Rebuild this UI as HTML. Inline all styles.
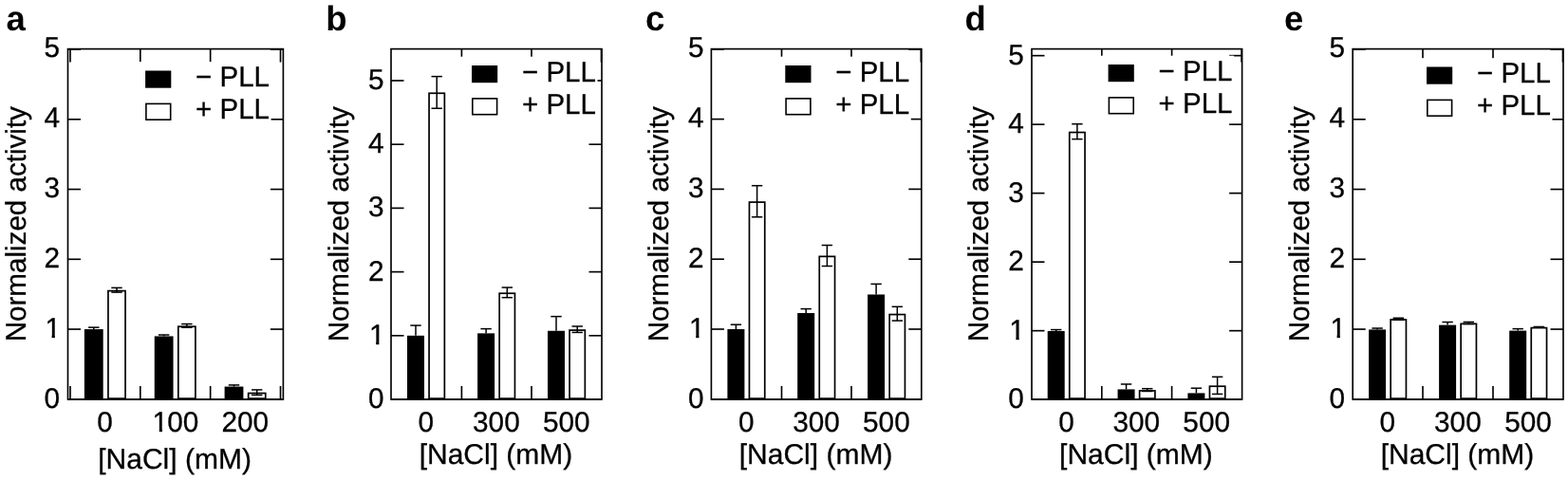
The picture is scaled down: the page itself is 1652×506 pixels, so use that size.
<!DOCTYPE html>
<html lang="en">
<head>
<meta charset="utf-8">
<title>Normalized activity vs [NaCl] with and without PLL</title>
<style>
html,body{margin:0;padding:0;background:#fff;}
body{width:1652px;height:506px;overflow:hidden;}
svg{display:block;}
svg text{font-family:"Liberation Sans", Arial, Helvetica, sans-serif;fill:#000;text-rendering:geometricPrecision;stroke:#000;stroke-width:0.3px;}
svg text.pl{stroke:none;}
svg line{stroke:#000;}
svg rect.s{stroke:#000;}
</style>
</head>
<body>
<svg width="1652" height="506" viewBox="0 0 1652 506">
<defs>
<clipPath id="clip1" clipPathUnits="userSpaceOnUse"><rect x="-2" y="-30" width="24" height="26.9"/><rect x="8.24" y="-3.5" width="3.25" height="4.2"/></clipPath>
<clipPath id="clip100" clipPathUnits="userSpaceOnUse"><rect x="-2" y="-30" width="24" height="26.9"/><rect x="8.24" y="-3.5" width="3.25" height="4.2"/><rect x="16.98" y="-30" width="40" height="34"/></clipPath>
</defs>
<rect x="0" y="0" width="1652" height="506" fill="#fff"/>
<g id="panel-a">
<text transform="translate(6.50,32.00)" text-anchor="start" font-size="36.5" class="pl" font-weight="700">a</text>
<text transform="translate(26.60,236.20) rotate(-90) scale(0.986,1)" text-anchor="middle" font-size="30.0">Normalized activity</text>
<rect class="s" x="71.50" y="51.60" width="226.90" height="369.40" fill="none" stroke-width="1.65"/>
<line x1="74.00" y1="51.60" x2="74.00" y2="65.60" stroke-width="1.65"/>
<line x1="74.00" y1="421.00" x2="74.00" y2="407.00" stroke-width="1.65"/>
<line x1="147.80" y1="51.60" x2="147.80" y2="65.60" stroke-width="1.65"/>
<line x1="147.80" y1="421.00" x2="147.80" y2="407.00" stroke-width="1.65"/>
<line x1="221.65" y1="51.60" x2="221.65" y2="65.60" stroke-width="1.65"/>
<line x1="221.65" y1="421.00" x2="221.65" y2="407.00" stroke-width="1.65"/>
<line x1="295.50" y1="51.60" x2="295.50" y2="65.60" stroke-width="1.65"/>
<line x1="295.50" y1="421.00" x2="295.50" y2="407.00" stroke-width="1.65"/>
<text transform="translate(63.00,430.00) scale(0.992,1)" text-anchor="end" font-size="30.0">0</text>
<line x1="71.50" y1="347.05" x2="85.00" y2="347.05" stroke-width="1.65"/>
<line x1="298.40" y1="347.05" x2="284.90" y2="347.05" stroke-width="1.65"/>
<text transform="translate(46.45,356.00) scale(0.992,1)" clip-path="url(#clip1)" font-size="30.0"><tspan dx="1.0">1</tspan></text>
<line x1="71.50" y1="273.30" x2="85.00" y2="273.30" stroke-width="1.65"/>
<line x1="298.40" y1="273.30" x2="284.90" y2="273.30" stroke-width="1.65"/>
<text transform="translate(63.00,282.00) scale(0.992,1)" text-anchor="end" font-size="30.0">2</text>
<line x1="71.50" y1="199.55" x2="85.00" y2="199.55" stroke-width="1.65"/>
<line x1="298.40" y1="199.55" x2="284.90" y2="199.55" stroke-width="1.65"/>
<text transform="translate(63.00,208.00) scale(0.992,1)" text-anchor="end" font-size="30.0">3</text>
<line x1="71.50" y1="125.80" x2="85.00" y2="125.80" stroke-width="1.65"/>
<line x1="298.40" y1="125.80" x2="284.90" y2="125.80" stroke-width="1.65"/>
<text transform="translate(63.00,134.00) scale(0.992,1)" text-anchor="end" font-size="30.0">4</text>
<line x1="71.50" y1="52.05" x2="85.00" y2="52.05" stroke-width="1.65"/>
<line x1="298.40" y1="52.05" x2="284.90" y2="52.05" stroke-width="1.65"/>
<text transform="translate(63.00,60.00) scale(0.992,1)" text-anchor="end" font-size="30.0">5</text>
<rect x="135.10" y="65.20" width="150.50" height="70.90" fill="#fff"/>
<rect x="153.10" y="74.50" width="27.2" height="18.2" fill="#000"/>
<rect class="s" x="153.90" y="109.40" width="25.8" height="16.8" fill="#fff" stroke-width="1.6"/>
<text transform="translate(206.10,91.00) scale(0.982,1)" text-anchor="start" font-size="30.0">− PLL</text>
<text transform="translate(206.10,125.00) scale(0.982,1)" text-anchor="start" font-size="30.0">+ PLL</text>
<rect x="88.90" y="347.05" width="19.80" height="73.95" fill="#000"/>
<line x1="98.80" y1="347.05" x2="98.80" y2="345.13" stroke-width="1.5"/>
<line x1="93.10" y1="345.13" x2="104.50" y2="345.13" stroke-width="1.5"/>
<rect class="s" x="113.95" y="306.60" width="18.10" height="113.50" fill="#fff" stroke-width="1.7"/>
<line x1="123.00" y1="308.11" x2="123.00" y2="303.39" stroke-width="1.5"/>
<line x1="117.30" y1="303.39" x2="128.70" y2="303.39" stroke-width="1.5"/>
<line x1="117.30" y1="308.11" x2="128.70" y2="308.11" stroke-width="1.5"/>
<rect x="162.75" y="354.43" width="19.80" height="66.57" fill="#000"/>
<line x1="172.65" y1="354.43" x2="172.65" y2="353.02" stroke-width="1.5"/>
<line x1="166.95" y1="353.02" x2="178.35" y2="353.02" stroke-width="1.5"/>
<rect class="s" x="187.80" y="344.21" width="18.10" height="75.89" fill="#fff" stroke-width="1.7"/>
<line x1="196.85" y1="345.21" x2="196.85" y2="341.52" stroke-width="1.5"/>
<line x1="191.15" y1="341.52" x2="202.55" y2="341.52" stroke-width="1.5"/>
<line x1="191.15" y1="345.21" x2="202.55" y2="345.21" stroke-width="1.5"/>
<rect x="236.60" y="407.53" width="19.80" height="13.47" fill="#000"/>
<line x1="246.50" y1="407.53" x2="246.50" y2="405.90" stroke-width="1.5"/>
<line x1="240.80" y1="405.90" x2="252.20" y2="405.90" stroke-width="1.5"/>
<rect class="s" x="261.65" y="414.50" width="18.10" height="5.60" fill="#fff" stroke-width="1.7"/>
<line x1="270.70" y1="416.38" x2="270.70" y2="410.92" stroke-width="1.5"/>
<line x1="265.00" y1="410.92" x2="276.40" y2="410.92" stroke-width="1.5"/>
<line x1="265.00" y1="416.38" x2="276.40" y2="416.38" stroke-width="1.5"/>
<line x1="71.50" y1="421.00" x2="298.40" y2="421.00" stroke-width="1.65"/>
<text transform="translate(110.60,455.00) scale(0.992,1)" text-anchor="middle" font-size="30.0">0</text>
<text transform="translate(159.62,455.00) scale(0.992,1)" clip-path="url(#clip100)" font-size="30.0"><tspan dx="1.0">1</tspan><tspan dx="-1.0">00</tspan></text>
<text transform="translate(258.30,455.00) scale(0.992,1)" text-anchor="middle" font-size="30.0">200</text>
<text transform="translate(184.05,494.00)" text-anchor="middle" font-size="30.0">[NaCl] (mM)</text>
</g>
<g id="panel-b">
<text transform="translate(343.20,32.00)" text-anchor="start" font-size="36.5" class="pl" font-weight="700">b</text>
<text transform="translate(366.50,236.20) rotate(-90) scale(0.986,1)" text-anchor="middle" font-size="30.0">Normalized activity</text>
<rect class="s" x="412.00" y="51.60" width="222.00" height="369.40" fill="none" stroke-width="1.65"/>
<line x1="486.40" y1="51.60" x2="486.40" y2="65.60" stroke-width="1.65"/>
<line x1="486.40" y1="421.00" x2="486.40" y2="407.00" stroke-width="1.65"/>
<line x1="560.00" y1="51.60" x2="560.00" y2="65.60" stroke-width="1.65"/>
<line x1="560.00" y1="421.00" x2="560.00" y2="407.00" stroke-width="1.65"/>
<line x1="633.50" y1="51.60" x2="633.50" y2="65.60" stroke-width="1.65"/>
<text transform="translate(404.50,430.00) scale(0.992,1)" text-anchor="end" font-size="30.0">0</text>
<line x1="412.00" y1="353.80" x2="425.50" y2="353.80" stroke-width="1.65"/>
<line x1="634.00" y1="353.80" x2="620.50" y2="353.80" stroke-width="1.65"/>
<text transform="translate(387.95,363.00) scale(0.992,1)" clip-path="url(#clip1)" font-size="30.0"><tspan dx="1.0">1</tspan></text>
<line x1="412.00" y1="286.60" x2="425.50" y2="286.60" stroke-width="1.65"/>
<line x1="634.00" y1="286.60" x2="620.50" y2="286.60" stroke-width="1.65"/>
<text transform="translate(404.50,296.00) scale(0.992,1)" text-anchor="end" font-size="30.0">2</text>
<line x1="412.00" y1="219.40" x2="425.50" y2="219.40" stroke-width="1.65"/>
<line x1="634.00" y1="219.40" x2="620.50" y2="219.40" stroke-width="1.65"/>
<text transform="translate(404.50,228.00) scale(0.992,1)" text-anchor="end" font-size="30.0">3</text>
<line x1="412.00" y1="152.20" x2="425.50" y2="152.20" stroke-width="1.65"/>
<line x1="634.00" y1="152.20" x2="620.50" y2="152.20" stroke-width="1.65"/>
<text transform="translate(404.50,161.00) scale(0.992,1)" text-anchor="end" font-size="30.0">4</text>
<line x1="412.00" y1="85.00" x2="425.50" y2="85.00" stroke-width="1.65"/>
<line x1="634.00" y1="85.00" x2="620.50" y2="85.00" stroke-width="1.65"/>
<text transform="translate(404.50,94.00) scale(0.992,1)" text-anchor="end" font-size="30.0">5</text>
<rect x="479.00" y="59.70" width="150.50" height="70.90" fill="#fff"/>
<rect x="497.00" y="69.00" width="27.2" height="18.2" fill="#000"/>
<rect class="s" x="497.80" y="103.90" width="25.8" height="16.8" fill="#fff" stroke-width="1.6"/>
<text transform="translate(550.00,86.00) scale(0.982,1)" text-anchor="start" font-size="30.0">− PLL</text>
<text transform="translate(550.00,120.00) scale(0.982,1)" text-anchor="start" font-size="30.0">+ PLL</text>
<rect x="429.00" y="353.80" width="18.00" height="67.20" fill="#000"/>
<line x1="438.00" y1="353.80" x2="438.00" y2="343.05" stroke-width="1.5"/>
<line x1="432.30" y1="343.05" x2="443.70" y2="343.05" stroke-width="1.5"/>
<rect class="s" x="452.05" y="98.28" width="16.30" height="321.82" fill="#fff" stroke-width="1.7"/>
<line x1="460.20" y1="114.23" x2="460.20" y2="80.63" stroke-width="1.5"/>
<line x1="454.50" y1="80.63" x2="465.90" y2="80.63" stroke-width="1.5"/>
<line x1="454.50" y1="114.23" x2="465.90" y2="114.23" stroke-width="1.5"/>
<rect x="503.10" y="351.38" width="18.00" height="69.62" fill="#000"/>
<line x1="512.10" y1="351.38" x2="512.10" y2="346.61" stroke-width="1.5"/>
<line x1="506.40" y1="346.61" x2="517.80" y2="346.61" stroke-width="1.5"/>
<rect class="s" x="526.15" y="309.22" width="16.30" height="110.88" fill="#fff" stroke-width="1.7"/>
<line x1="534.30" y1="313.68" x2="534.30" y2="303.06" stroke-width="1.5"/>
<line x1="528.60" y1="303.06" x2="540.00" y2="303.06" stroke-width="1.5"/>
<line x1="528.60" y1="313.68" x2="540.00" y2="313.68" stroke-width="1.5"/>
<rect x="577.00" y="348.76" width="18.00" height="72.24" fill="#000"/>
<line x1="586.00" y1="348.76" x2="586.00" y2="333.64" stroke-width="1.5"/>
<line x1="580.30" y1="333.64" x2="591.70" y2="333.64" stroke-width="1.5"/>
<rect class="s" x="600.05" y="348.06" width="16.30" height="72.04" fill="#fff" stroke-width="1.7"/>
<line x1="608.20" y1="350.44" x2="608.20" y2="343.99" stroke-width="1.5"/>
<line x1="602.50" y1="343.99" x2="613.90" y2="343.99" stroke-width="1.5"/>
<line x1="602.50" y1="350.44" x2="613.90" y2="350.44" stroke-width="1.5"/>
<line x1="412.00" y1="421.00" x2="634.00" y2="421.00" stroke-width="1.65"/>
<text transform="translate(448.80,455.00) scale(0.992,1)" text-anchor="middle" font-size="30.0">0</text>
<text transform="translate(522.90,455.00) scale(0.992,1)" text-anchor="middle" font-size="30.0">300</text>
<text transform="translate(596.80,455.00) scale(0.992,1)" text-anchor="middle" font-size="30.0">500</text>
<text transform="translate(522.50,489.00)" text-anchor="middle" font-size="30.0">[NaCl] (mM)</text>
</g>
<g id="panel-c">
<text transform="translate(680.00,32.00)" text-anchor="start" font-size="36.5" class="pl" font-weight="700">c</text>
<text transform="translate(704.00,236.20) rotate(-90) scale(0.986,1)" text-anchor="middle" font-size="30.0">Normalized activity</text>
<rect class="s" x="749.40" y="51.60" width="221.40" height="369.40" fill="none" stroke-width="1.65"/>
<line x1="823.50" y1="51.60" x2="823.50" y2="65.60" stroke-width="1.65"/>
<line x1="823.50" y1="421.00" x2="823.50" y2="407.00" stroke-width="1.65"/>
<line x1="897.00" y1="51.60" x2="897.00" y2="65.60" stroke-width="1.65"/>
<line x1="897.00" y1="421.00" x2="897.00" y2="407.00" stroke-width="1.65"/>
<line x1="970.30" y1="51.60" x2="970.30" y2="65.60" stroke-width="1.65"/>
<text transform="translate(741.60,430.00) scale(0.992,1)" text-anchor="end" font-size="30.0">0</text>
<line x1="749.40" y1="347.00" x2="762.90" y2="347.00" stroke-width="1.65"/>
<line x1="970.80" y1="347.00" x2="957.30" y2="347.00" stroke-width="1.65"/>
<text transform="translate(725.05,356.00) scale(0.992,1)" clip-path="url(#clip1)" font-size="30.0"><tspan dx="1.0">1</tspan></text>
<line x1="749.40" y1="273.20" x2="762.90" y2="273.20" stroke-width="1.65"/>
<line x1="970.80" y1="273.20" x2="957.30" y2="273.20" stroke-width="1.65"/>
<text transform="translate(741.60,282.00) scale(0.992,1)" text-anchor="end" font-size="30.0">2</text>
<line x1="749.40" y1="199.40" x2="762.90" y2="199.40" stroke-width="1.65"/>
<line x1="970.80" y1="199.40" x2="957.30" y2="199.40" stroke-width="1.65"/>
<text transform="translate(741.60,208.00) scale(0.992,1)" text-anchor="end" font-size="30.0">3</text>
<line x1="749.40" y1="125.60" x2="762.90" y2="125.60" stroke-width="1.65"/>
<line x1="970.80" y1="125.60" x2="957.30" y2="125.60" stroke-width="1.65"/>
<text transform="translate(741.60,134.00) scale(0.992,1)" text-anchor="end" font-size="30.0">4</text>
<line x1="749.40" y1="52.05" x2="762.90" y2="52.05" stroke-width="1.65"/>
<line x1="970.80" y1="52.05" x2="957.30" y2="52.05" stroke-width="1.65"/>
<text transform="translate(741.60,60.00) scale(0.992,1)" text-anchor="end" font-size="30.0">5</text>
<rect x="809.30" y="59.70" width="150.50" height="70.90" fill="#fff"/>
<rect x="827.30" y="69.00" width="27.2" height="18.2" fill="#000"/>
<rect class="s" x="828.10" y="103.90" width="25.8" height="16.8" fill="#fff" stroke-width="1.6"/>
<text transform="translate(880.30,86.00) scale(0.982,1)" text-anchor="start" font-size="30.0">− PLL</text>
<text transform="translate(880.30,120.00) scale(0.982,1)" text-anchor="start" font-size="30.0">+ PLL</text>
<rect x="766.40" y="347.00" width="18.00" height="74.00" fill="#000"/>
<line x1="775.40" y1="347.00" x2="775.40" y2="342.20" stroke-width="1.5"/>
<line x1="769.70" y1="342.20" x2="781.10" y2="342.20" stroke-width="1.5"/>
<rect class="s" x="789.45" y="213.09" width="16.30" height="207.01" fill="#fff" stroke-width="1.7"/>
<line x1="797.60" y1="228.77" x2="797.60" y2="195.71" stroke-width="1.5"/>
<line x1="791.90" y1="195.71" x2="803.30" y2="195.71" stroke-width="1.5"/>
<line x1="791.90" y1="228.77" x2="803.30" y2="228.77" stroke-width="1.5"/>
<rect x="840.20" y="330.03" width="18.00" height="90.97" fill="#000"/>
<line x1="849.20" y1="330.03" x2="849.20" y2="325.60" stroke-width="1.5"/>
<line x1="843.50" y1="325.60" x2="854.90" y2="325.60" stroke-width="1.5"/>
<rect class="s" x="863.25" y="270.36" width="16.30" height="149.74" fill="#fff" stroke-width="1.7"/>
<line x1="871.40" y1="280.51" x2="871.40" y2="258.51" stroke-width="1.5"/>
<line x1="865.70" y1="258.51" x2="877.10" y2="258.51" stroke-width="1.5"/>
<line x1="865.70" y1="280.51" x2="877.10" y2="280.51" stroke-width="1.5"/>
<rect x="914.10" y="310.47" width="18.00" height="110.53" fill="#000"/>
<line x1="923.10" y1="310.47" x2="923.10" y2="299.40" stroke-width="1.5"/>
<line x1="917.40" y1="299.40" x2="928.80" y2="299.40" stroke-width="1.5"/>
<rect class="s" x="937.15" y="331.54" width="16.30" height="88.56" fill="#fff" stroke-width="1.7"/>
<line x1="945.30" y1="338.07" x2="945.30" y2="323.31" stroke-width="1.5"/>
<line x1="939.60" y1="323.31" x2="951.00" y2="323.31" stroke-width="1.5"/>
<line x1="939.60" y1="338.07" x2="951.00" y2="338.07" stroke-width="1.5"/>
<line x1="749.40" y1="421.00" x2="970.80" y2="421.00" stroke-width="1.65"/>
<text transform="translate(786.20,455.00) scale(0.992,1)" text-anchor="middle" font-size="30.0">0</text>
<text transform="translate(860.00,455.00) scale(0.992,1)" text-anchor="middle" font-size="30.0">300</text>
<text transform="translate(933.90,455.00) scale(0.992,1)" text-anchor="middle" font-size="30.0">500</text>
<text transform="translate(859.60,489.00)" text-anchor="middle" font-size="30.0">[NaCl] (mM)</text>
</g>
<g id="panel-d">
<text transform="translate(1016.50,32.00)" text-anchor="start" font-size="36.5" class="pl" font-weight="700">d</text>
<text transform="translate(1041.20,236.20) rotate(-90) scale(0.986,1)" text-anchor="middle" font-size="30.0">Normalized activity</text>
<rect class="s" x="1087.00" y="51.60" width="221.60" height="369.40" fill="none" stroke-width="1.65"/>
<line x1="1160.80" y1="51.60" x2="1160.80" y2="65.60" stroke-width="1.65"/>
<line x1="1160.80" y1="421.00" x2="1160.80" y2="407.00" stroke-width="1.65"/>
<line x1="1234.60" y1="51.60" x2="1234.60" y2="65.60" stroke-width="1.65"/>
<line x1="1234.60" y1="421.00" x2="1234.60" y2="407.00" stroke-width="1.65"/>
<line x1="1308.10" y1="51.60" x2="1308.10" y2="65.60" stroke-width="1.65"/>
<text transform="translate(1078.80,430.00) scale(0.992,1)" text-anchor="end" font-size="30.0">0</text>
<line x1="1087.00" y1="348.65" x2="1100.50" y2="348.65" stroke-width="1.65"/>
<line x1="1308.60" y1="348.65" x2="1295.10" y2="348.65" stroke-width="1.65"/>
<text transform="translate(1062.25,358.00) scale(0.992,1)" clip-path="url(#clip1)" font-size="30.0"><tspan dx="1.0">1</tspan></text>
<line x1="1087.00" y1="276.15" x2="1100.50" y2="276.15" stroke-width="1.65"/>
<line x1="1308.60" y1="276.15" x2="1295.10" y2="276.15" stroke-width="1.65"/>
<text transform="translate(1078.80,285.00) scale(0.992,1)" text-anchor="end" font-size="30.0">2</text>
<line x1="1087.00" y1="203.65" x2="1100.50" y2="203.65" stroke-width="1.65"/>
<line x1="1308.60" y1="203.65" x2="1295.10" y2="203.65" stroke-width="1.65"/>
<text transform="translate(1078.80,213.00) scale(0.992,1)" text-anchor="end" font-size="30.0">3</text>
<line x1="1087.00" y1="131.15" x2="1100.50" y2="131.15" stroke-width="1.65"/>
<line x1="1308.60" y1="131.15" x2="1295.10" y2="131.15" stroke-width="1.65"/>
<text transform="translate(1078.80,140.00) scale(0.992,1)" text-anchor="end" font-size="30.0">4</text>
<line x1="1087.00" y1="58.65" x2="1100.50" y2="58.65" stroke-width="1.65"/>
<line x1="1308.60" y1="58.65" x2="1295.10" y2="58.65" stroke-width="1.65"/>
<text transform="translate(1078.80,68.00) scale(0.992,1)" text-anchor="end" font-size="30.0">5</text>
<rect x="1149.60" y="58.70" width="150.50" height="70.90" fill="#fff"/>
<rect x="1167.60" y="68.00" width="27.2" height="18.2" fill="#000"/>
<rect class="s" x="1168.40" y="102.90" width="25.8" height="16.8" fill="#fff" stroke-width="1.6"/>
<text transform="translate(1220.60,85.00) scale(0.982,1)" text-anchor="start" font-size="30.0">− PLL</text>
<text transform="translate(1220.60,119.00) scale(0.982,1)" text-anchor="start" font-size="30.0">+ PLL</text>
<rect x="1103.70" y="349.01" width="18.00" height="71.99" fill="#000"/>
<line x1="1112.70" y1="349.01" x2="1112.70" y2="347.56" stroke-width="1.5"/>
<line x1="1107.00" y1="347.56" x2="1118.40" y2="347.56" stroke-width="1.5"/>
<rect class="s" x="1126.75" y="139.54" width="16.30" height="280.56" fill="#fff" stroke-width="1.7"/>
<line x1="1134.90" y1="146.66" x2="1134.90" y2="130.71" stroke-width="1.5"/>
<line x1="1129.20" y1="130.71" x2="1140.60" y2="130.71" stroke-width="1.5"/>
<line x1="1129.20" y1="146.66" x2="1140.60" y2="146.66" stroke-width="1.5"/>
<rect x="1177.55" y="410.42" width="18.00" height="10.58" fill="#000"/>
<line x1="1186.55" y1="410.42" x2="1186.55" y2="404.98" stroke-width="1.5"/>
<line x1="1180.85" y1="404.98" x2="1192.25" y2="404.98" stroke-width="1.5"/>
<rect class="s" x="1200.60" y="411.92" width="16.30" height="8.18" fill="#fff" stroke-width="1.7"/>
<line x1="1208.75" y1="412.45" x2="1208.75" y2="409.69" stroke-width="1.5"/>
<line x1="1203.05" y1="409.69" x2="1214.45" y2="409.69" stroke-width="1.5"/>
<line x1="1203.05" y1="412.45" x2="1214.45" y2="412.45" stroke-width="1.5"/>
<rect x="1251.40" y="414.41" width="18.00" height="6.59" fill="#000"/>
<line x1="1260.40" y1="414.41" x2="1260.40" y2="409.19" stroke-width="1.5"/>
<line x1="1254.70" y1="409.19" x2="1266.10" y2="409.19" stroke-width="1.5"/>
<rect class="s" x="1274.45" y="407.21" width="16.30" height="12.89" fill="#fff" stroke-width="1.7"/>
<line x1="1282.60" y1="415.42" x2="1282.60" y2="397.30" stroke-width="1.5"/>
<line x1="1276.90" y1="397.30" x2="1288.30" y2="397.30" stroke-width="1.5"/>
<line x1="1276.90" y1="415.42" x2="1288.30" y2="415.42" stroke-width="1.5"/>
<line x1="1087.00" y1="421.00" x2="1308.60" y2="421.00" stroke-width="1.65"/>
<text transform="translate(1123.50,455.00) scale(0.992,1)" text-anchor="middle" font-size="30.0">0</text>
<text transform="translate(1197.35,455.00) scale(0.992,1)" text-anchor="middle" font-size="30.0">300</text>
<text transform="translate(1271.20,455.00) scale(0.992,1)" text-anchor="middle" font-size="30.0">500</text>
<text transform="translate(1196.95,489.00)" text-anchor="middle" font-size="30.0">[NaCl] (mM)</text>
</g>
<g id="panel-e">
<text transform="translate(1353.00,32.00)" text-anchor="start" font-size="36.5" class="pl" font-weight="700">e</text>
<text transform="translate(1379.20,236.20) rotate(-90) scale(0.986,1)" text-anchor="middle" font-size="30.0">Normalized activity</text>
<rect class="s" x="1425.20" y="51.60" width="221.80" height="369.40" fill="none" stroke-width="1.65"/>
<line x1="1499.00" y1="51.60" x2="1499.00" y2="65.60" stroke-width="1.65"/>
<line x1="1499.00" y1="421.00" x2="1499.00" y2="407.00" stroke-width="1.65"/>
<line x1="1573.00" y1="51.60" x2="1573.00" y2="65.60" stroke-width="1.65"/>
<line x1="1573.00" y1="421.00" x2="1573.00" y2="407.00" stroke-width="1.65"/>
<line x1="1646.50" y1="51.60" x2="1646.50" y2="65.60" stroke-width="1.65"/>
<text transform="translate(1417.00,430.00) scale(0.992,1)" text-anchor="end" font-size="30.0">0</text>
<line x1="1425.20" y1="347.05" x2="1438.70" y2="347.05" stroke-width="1.65"/>
<line x1="1647.00" y1="347.05" x2="1633.50" y2="347.05" stroke-width="1.65"/>
<text transform="translate(1400.45,356.00) scale(0.992,1)" clip-path="url(#clip1)" font-size="30.0"><tspan dx="1.0">1</tspan></text>
<line x1="1425.20" y1="273.30" x2="1438.70" y2="273.30" stroke-width="1.65"/>
<line x1="1647.00" y1="273.30" x2="1633.50" y2="273.30" stroke-width="1.65"/>
<text transform="translate(1417.00,282.00) scale(0.992,1)" text-anchor="end" font-size="30.0">2</text>
<line x1="1425.20" y1="199.55" x2="1438.70" y2="199.55" stroke-width="1.65"/>
<line x1="1647.00" y1="199.55" x2="1633.50" y2="199.55" stroke-width="1.65"/>
<text transform="translate(1417.00,208.00) scale(0.992,1)" text-anchor="end" font-size="30.0">3</text>
<line x1="1425.20" y1="125.80" x2="1438.70" y2="125.80" stroke-width="1.65"/>
<line x1="1647.00" y1="125.80" x2="1633.50" y2="125.80" stroke-width="1.65"/>
<text transform="translate(1417.00,134.00) scale(0.992,1)" text-anchor="end" font-size="30.0">4</text>
<line x1="1425.20" y1="52.05" x2="1438.70" y2="52.05" stroke-width="1.65"/>
<line x1="1647.00" y1="52.05" x2="1633.50" y2="52.05" stroke-width="1.65"/>
<text transform="translate(1417.00,60.00) scale(0.992,1)" text-anchor="end" font-size="30.0">5</text>
<rect x="1485.00" y="61.20" width="150.50" height="70.90" fill="#fff"/>
<rect x="1503.00" y="70.50" width="27.2" height="18.2" fill="#000"/>
<rect class="s" x="1503.80" y="105.40" width="25.8" height="16.8" fill="#fff" stroke-width="1.6"/>
<text transform="translate(1556.00,87.00) scale(0.982,1)" text-anchor="start" font-size="30.0">− PLL</text>
<text transform="translate(1556.00,121.00) scale(0.982,1)" text-anchor="start" font-size="30.0">+ PLL</text>
<rect x="1442.10" y="347.42" width="18.00" height="73.58" fill="#000"/>
<line x1="1451.10" y1="347.42" x2="1451.10" y2="346.02" stroke-width="1.5"/>
<line x1="1445.40" y1="346.02" x2="1456.80" y2="346.02" stroke-width="1.5"/>
<rect class="s" x="1465.15" y="336.99" width="16.30" height="83.12" fill="#fff" stroke-width="1.7"/>
<line x1="1473.30" y1="337.02" x2="1473.30" y2="335.25" stroke-width="1.5"/>
<line x1="1467.60" y1="335.25" x2="1479.00" y2="335.25" stroke-width="1.5"/>
<line x1="1467.60" y1="337.02" x2="1479.00" y2="337.02" stroke-width="1.5"/>
<rect x="1516.10" y="342.62" width="18.00" height="78.38" fill="#000"/>
<line x1="1525.10" y1="342.62" x2="1525.10" y2="339.53" stroke-width="1.5"/>
<line x1="1519.40" y1="339.53" x2="1530.80" y2="339.53" stroke-width="1.5"/>
<rect class="s" x="1539.15" y="341.34" width="16.30" height="78.76" fill="#fff" stroke-width="1.7"/>
<line x1="1547.30" y1="341.52" x2="1547.30" y2="339.45" stroke-width="1.5"/>
<line x1="1541.60" y1="339.45" x2="1553.00" y2="339.45" stroke-width="1.5"/>
<line x1="1541.60" y1="341.52" x2="1553.00" y2="341.52" stroke-width="1.5"/>
<rect x="1590.20" y="348.60" width="18.00" height="72.40" fill="#000"/>
<line x1="1599.20" y1="348.60" x2="1599.20" y2="346.61" stroke-width="1.5"/>
<line x1="1593.50" y1="346.61" x2="1604.90" y2="346.61" stroke-width="1.5"/>
<rect class="s" x="1613.25" y="345.61" width="16.30" height="74.49" fill="#fff" stroke-width="1.7"/>
<line x1="1621.40" y1="345.06" x2="1621.40" y2="344.47" stroke-width="1.5"/>
<line x1="1615.70" y1="344.47" x2="1627.10" y2="344.47" stroke-width="1.5"/>
<line x1="1615.70" y1="345.06" x2="1627.10" y2="345.06" stroke-width="1.5"/>
<line x1="1425.20" y1="421.00" x2="1647.00" y2="421.00" stroke-width="1.65"/>
<text transform="translate(1461.90,455.00) scale(0.992,1)" text-anchor="middle" font-size="30.0">0</text>
<text transform="translate(1535.90,455.00) scale(0.992,1)" text-anchor="middle" font-size="30.0">300</text>
<text transform="translate(1610.00,455.00) scale(0.992,1)" text-anchor="middle" font-size="30.0">500</text>
<text transform="translate(1535.50,489.00)" text-anchor="middle" font-size="30.0">[NaCl] (mM)</text>
</g>
</svg>
</body>
</html>
